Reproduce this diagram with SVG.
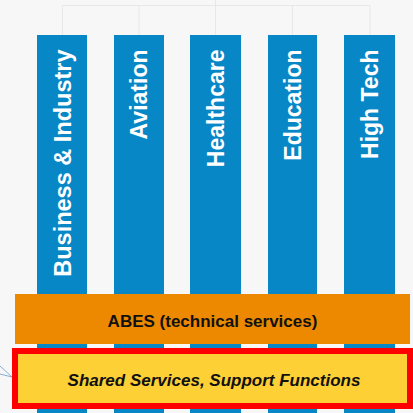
<svg xmlns="http://www.w3.org/2000/svg" width="413" height="413" viewBox="0 0 413 413">
<style>
.col{fill:#0887c7}
.ct{font-family:"Liberation Sans",Arial,sans-serif;font-weight:bold;font-size:23px;fill:#fff;text-anchor:end}
.conn{stroke:#e8e8e8;stroke-width:1;fill:none}
.ext{stroke:#86aed0;stroke-width:1;fill:none}
.lbl{font-family:"Liberation Sans",Arial,sans-serif;font-weight:bold;font-size:17px;fill:#111;text-anchor:middle}
</style>
<rect width="413" height="413" fill="#f7f7f7"/>
<g id="connectors">
<path class="conn" d="M215.5 0V35M62.5 5.5H370M62.5 5.5V35M139 5.5V35M292.5 5.5V35M370 5.5V35"/>
<path class="ext" d="M0 366L12 377M0 374L12 377"/>
</g>
<g id="business">
<rect class="col" x="37" y="35" width="50" height="378"/>
<text class="ct" transform="translate(70.5,49.5) rotate(-90)" style="font-size:23.5px">Business &amp; Industry</text>
</g>
<g id="aviation">
<rect class="col" x="114" y="35" width="50" height="378"/>
<text class="ct" transform="translate(147.3,49.5) rotate(-90)">Aviation</text>
</g>
<g id="healthcare">
<rect class="col" x="190" y="35" width="51" height="378"/>
<text class="ct" transform="translate(224,49.5) rotate(-90)">Healthcare</text>
</g>
<g id="education">
<rect class="col" x="268" y="35" width="49" height="378"/>
<text class="ct" transform="translate(301,49.5) rotate(-90)">Education</text>
</g>
<g id="hightech">
<rect class="col" x="344" y="35" width="51" height="378"/>
<text class="ct" transform="translate(378,49.5) rotate(-90)">High Tech</text>
</g>
<g id="abes">
<rect x="15" y="294" width="395" height="50" fill="#ec8900"/>
<text class="lbl" x="212.5" y="327">ABES (technical services)</text>
</g>
<g id="shared">
<rect x="15" y="351" width="395" height="55" fill="#fdd035" stroke="#ff0000" stroke-width="6"/>
<text class="lbl" x="214" y="386" font-style="italic">Shared Services, Support Functions</text>
</g>
</svg>
